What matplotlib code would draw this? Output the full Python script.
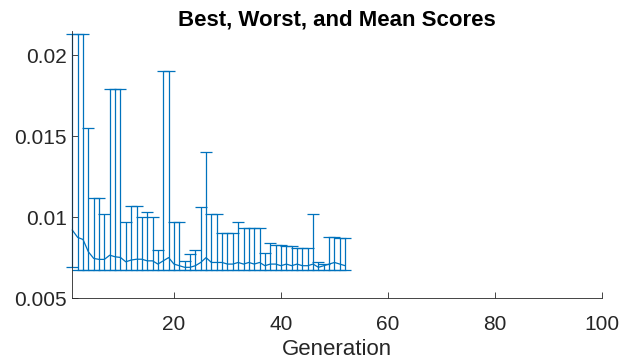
import numpy as np
import matplotlib.pyplot as plt

plt.rcParams['font.family'] = ['Liberation Sans', 'DejaVu Sans']

# scores per generation
generation = np.arange(1, 53)
best = [0.0069] + [0.00675] * 51
worst = [0.0213, 0.0213, 0.0213, 0.0155, 0.0112, 0.0112, 0.0102, 0.0179, 0.0179, 0.0179,
         0.0097, 0.0107, 0.0107, 0.0100, 0.0103, 0.0100, 0.0080, 0.0190, 0.0190, 0.0097,
         0.0097, 0.0073, 0.0077, 0.0080, 0.0106, 0.0140, 0.0102, 0.0102, 0.0090, 0.0090,
         0.0090, 0.0097, 0.0093, 0.0093, 0.0093, 0.0093, 0.0078, 0.0084, 0.0083, 0.0083,
         0.0082, 0.0082, 0.0081, 0.0081, 0.0081, 0.0102, 0.0072, 0.0071, 0.0088, 0.0088,
         0.0087, 0.0087]
mean = [0.0092, 0.00875, 0.00862, 0.00786, 0.00745, 0.00739, 0.00739, 0.00765, 0.00755, 0.00751,
        0.00724, 0.00735, 0.0074, 0.0074, 0.0073, 0.0073, 0.0071, 0.0073, 0.0075, 0.0071,
        0.0070, 0.0069, 0.0069, 0.0070, 0.0072, 0.0075, 0.0072, 0.0072, 0.0072, 0.0071,
        0.0071, 0.0072, 0.0071, 0.0072, 0.0071, 0.0072, 0.0070, 0.0071, 0.0071, 0.0070,
        0.0071, 0.0070, 0.0071, 0.0070, 0.0070, 0.0071, 0.0069, 0.0070, 0.0071, 0.0072,
        0.0071, 0.0070]

best = np.array(best)
worst = np.array(worst)
mean = np.array(mean)

fig = plt.figure(figsize=(6.2, 3.6), dpi=100)
ax = fig.add_axes([0.1166, 0.172, 0.8544, 0.742])

eb = ax.errorbar(generation, mean, yerr=[mean - best, worst - mean],
                 color='#0072BD', lw=0.9, elinewidth=0.9, capsize=4.3, capthick=0.9)
for art in eb.get_children():
    art.set_clip_on(False)

ax.set_xlim(1, 100)
ax.set_ylim(0.005, 0.0215)
ax.set_xticks([20, 40, 60, 80, 100])
ax.set_yticks([0.005, 0.01, 0.015, 0.02])
ax.set_yticklabels(['0.005', '0.01', '0.015', '0.02'])

axis_col = '#262626'
for side in ['top', 'right']:
    ax.spines[side].set_visible(False)
for side in ['left', 'bottom']:
    ax.spines[side].set_color(axis_col)
    ax.spines[side].set_linewidth(0.6)
ax.tick_params(direction='in', length=4, width=0.6, colors=axis_col, labelsize=15)
ax.tick_params(axis='x', pad=12)
ax.tick_params(axis='y', pad=4)

ax.set_xlabel('Generation', fontsize=16, color=axis_col, labelpad=4)
ax.set_title('Best, Worst, and Mean Scores', fontsize=16, fontweight='bold', pad=4)

fig.savefig('out.png', dpi=100)
